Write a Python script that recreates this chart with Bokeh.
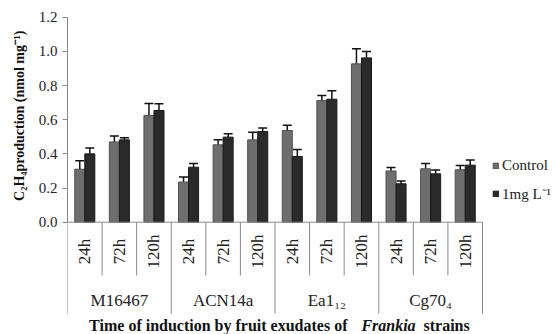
import numpy as np
from bokeh.plotting import figure
from bokeh.models import (ColumnDataSource, Range1d, FixedTicker, NumeralTickFormatter,
                          Whisker, TeeHead, Legend, LegendItem, Label)
from bokeh.core.properties import value
from bokeh.embed import file_html
from bokeh.resources import INLINE

# ---- data ----
strains = ["M16467", "ACN14a", "Ea1\u2081\u2082", "Cg70\u2084"]
times = ["24h", "72h", "120h"]
control = [0.31, 0.47, 0.625, 0.235, 0.453, 0.482, 0.537, 0.712, 0.927, 0.30, 0.313, 0.307]
treated = [0.40, 0.482, 0.654, 0.322, 0.498, 0.531, 0.385, 0.72, 0.962, 0.225, 0.283, 0.334]
control_err = [0.05, 0.034, 0.07, 0.03, 0.03, 0.044, 0.03, 0.03, 0.088, 0.02, 0.03, 0.025]
treated_err = [0.034, 0.012, 0.04, 0.022, 0.02, 0.02, 0.04, 0.05, 0.037, 0.016, 0.023, 0.03]
y_ticks = [0.0, 0.2, 0.4, 0.6, 0.8, 1.0, 1.2]

FONT = "'Liberation Serif', serif"
AX_FONT = "serif"
AXIS_GREY = "#8a8a8a"

n = len(control)
centers = np.arange(n) + 0.5
bw = 0.29

src_c = ColumnDataSource(dict(x=centers - bw / 2, top=control,
                              upper=np.array(control) + np.array(control_err),
                              lower=np.array(control) - np.array(control_err)))
src_t = ColumnDataSource(dict(x=centers + bw / 2, top=treated,
                              upper=np.array(treated) + np.array(treated_err),
                              lower=np.array(treated) - np.array(treated_err)))

p = figure(width=554, height=334, output_backend="svg", toolbar_location=None,
           x_range=Range1d(0, 12 * 487 / 415), y_range=Range1d(-0.6575, 1.2277),
           x_axis_location=None, min_border_left=67, min_border_right=0,
           min_border_top=12, min_border_bottom=0)
p.outline_line_color = None
p.xgrid.visible = False
p.ygrid.visible = False
p.background_fill_color = "white"
p.border_fill_color = "white"

# y axis
ya = p.yaxis[0]
ya.bounds = (0, 1.2)
ya.ticker = FixedTicker(ticks=y_ticks)
ya.formatter = NumeralTickFormatter(format="0.0")
ya.axis_line_color = AXIS_GREY
ya.major_tick_line_color = AXIS_GREY
ya.minor_tick_line_color = None
ya.major_tick_in = 0
ya.major_tick_out = 5
ya.major_label_standoff = 5
ya.major_label_text_font = AX_FONT
ya.major_label_text_font_size = "15px"
ya.major_label_text_color = "#222222"
# leading no-break spaces lift the centred label to sit beside the 0-1.2 axis
ya.axis_label = "\u00a0" * 33 + "C\u2082H\u2084production (nmol mg\u207b\u00b9)"
ya.axis_label_text_font = AX_FONT
ya.axis_label_text_font_style = "bold"
ya.axis_label_text_font_size = "14px"
ya.axis_label_text_color = "#111111"
ya.axis_label_standoff = 9

# bars
rc = p.vbar(x="x", top="top", width=bw, source=src_c, fill_color="#6e6e6e",
            line_color="#505050", line_width=1)
rt = p.vbar(x="x", top="top", width=bw, source=src_t, fill_color="#2a2a2a",
            line_color="#1a1a1a", line_width=1)

for src in (src_c, src_t):
    w = Whisker(source=src, base="x", upper="upper", lower="lower",
                line_color="#111111", line_width=1.5,
                upper_head=TeeHead(size=9, line_color="#111111", line_width=1.5),
                lower_head=TeeHead(size=9, line_color="#111111", line_width=1.5))
    p.add_layout(w)

# categorical x axis drawn by hand
edges = np.arange(n + 1)
p.segment(x0=[0], y0=[0], x1=[n], y1=[0], line_color=AXIS_GREY, line_width=1)
minor_edges = [e for e in edges if e % 3 != 0]
major_edges = [e for e in edges if e % 3 == 0]
p.segment(x0=minor_edges, y0=[0] * len(minor_edges), x1=minor_edges,
          y1=[-0.312] * len(minor_edges), line_color=AXIS_GREY, line_width=1)
p.segment(x0=major_edges, y0=[0] * len(major_edges), x1=major_edges,
          y1=[-0.535] * len(major_edges), line_color=AXIS_GREY, line_width=1)

time_labels = [t for _ in strains for t in times]
p.text(x=centers, y=[-0.172] * n, text=time_labels, angle=np.pi / 2,
       text_align="center", text_baseline="middle", text_font=value(FONT),
       text_font_size="17px", text_color="#222222")
p.text(x=np.arange(len(strains)) * 3 + 1.5, y=[-0.458] * len(strains), text=strains,
       text_align="center", text_baseline="middle", text_font=value(FONT),
       text_font_size="17px", text_color="#222222")

# x title (mixed style)
def xd(ref_px):
    return (ref_px - 67) / (415 / 12)

ty = -0.605
p.add_layout(Label(x=xd(351), y=ty, text="Time of induction  by fruit exudates of",
                   text_align="right", text_baseline="middle", text_font=FONT,
                   text_font_style="bold", text_font_size="16px", text_color="#111111"))
p.add_layout(Label(x=xd(388), y=ty, text="Frankia",
                   text_align="center", text_baseline="middle", text_font=FONT,
                   text_font_style="bold italic", text_font_size="16px", text_color="#111111"))
p.add_layout(Label(x=xd(423), y=ty, text="strains",
                   text_align="left", text_baseline="middle", text_font=FONT,
                   text_font_style="bold", text_font_size="16px", text_color="#111111"))

legend = Legend(items=[LegendItem(label="Control", renderers=[rc]),
                       LegendItem(label="1mg L\u207b\u00b9", renderers=[rt])],
                location=(425, 131), orientation="vertical",
                glyph_width=7, glyph_height=7, label_height=20, spacing=8,
                label_standoff=3, padding=0, margin=0,
                label_text_font=AX_FONT, label_text_font_size="15px",
                label_text_color="#222222",
                border_line_color=None, background_fill_alpha=0)
p.add_layout(legend, "center")

open("out.html", "w").write(file_html(p, INLINE))
